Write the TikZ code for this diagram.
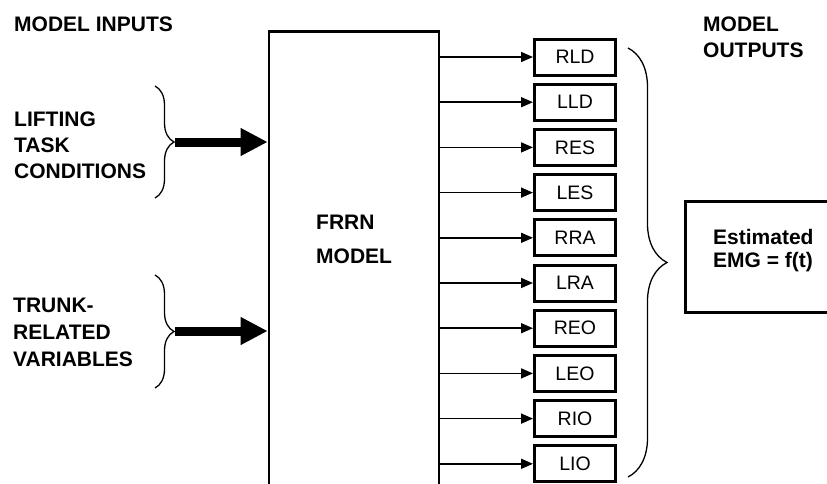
\documentclass[tikz,border=0pt]{standalone}
\usepackage{fontspec}
\setmainfont{Liberation Sans}
\usetikzlibrary{arrows.meta,positioning,decorations.pathreplacing}
\tikzset{
  headtext/.style={font=\fontsize{21}{26}\selectfont\bfseries, align=left,
    anchor=north west, inner sep=0pt},
  outbox/.style={draw, line width=3pt, minimum width=81pt,
    minimum height=36pt, inner sep=0pt, font=\fontsize{19.5}{22}\selectfont},
  bigbox/.style={draw, line width=2.6pt, inner sep=0pt},
  arrow/.style={-{Triangle[length=12pt,width=10pt]}, line width=1.6pt},
  fatarrow/.style={-{Triangle[length=27pt,width=26pt]}, line width=9pt},
  curly/.style={decorate, decoration={brace, amplitude=#1}, line width=1.3pt}
}

\begin{document}
\begin{tikzpicture}[x=1pt, y=-1pt, node distance=6.2pt]
  \clip (0,0) rectangle (827,483);

  % inputs
  \node[headtext] (inputs) at (14,17) {MODEL INPUTS};
  \node[headtext] (lifting) at (14,112) {LIFTING\\TASK\\CONDITIONS};
  \node[headtext, font=\fontsize{21}{27}\selectfont\bfseries] (trunk) at (13,298) {TRUNK-\\RELATED\\VARIABLES};

  % model
  \node[bigbox, anchor=north, minimum width=170pt, minimum height=500pt] (model) at (354,30) {};
  \node[headtext, font=\fontsize{21}{34}\selectfont\bfseries] (frrn) at (316,215) {FRRN\\MODEL};

  \coordinate (liftTop) at (155,86);
  \coordinate (liftBot) at (155,198);
  \coordinate (liftTip) at (175,142);
  \coordinate (trunkTop) at (155,275);
  \coordinate (trunkBot) at (155,388);
  \coordinate (trunkTip) at (175,331);
  \draw[curly=19pt] (liftTop) -- (liftBot);
  \draw[curly=19pt] (trunkTop) -- (trunkBot);
  \draw[fatarrow] (liftTip) -- (liftTip -| model.west);
  \draw[fatarrow] (trunkTip) -- (trunkTip -| model.west);

  % outputs
  \node[outbox] (rld) at (575,57) {RLD};
  \node[outbox, below=of rld] (lld) {LLD};
  \node[outbox, below=of lld] (res) {RES};
  \node[outbox, below=of res] (les) {LES};
  \node[outbox, below=of les] (rra) {RRA};
  \node[outbox, below=of rra] (lra) {LRA};
  \node[outbox, below=of lra] (reo) {REO};
  \node[outbox, below=of reo] (leo) {LEO};
  \node[outbox, below=of leo] (rio) {RIO};
  \node[outbox, below=of rio] (lio) {LIO};

  \draw[arrow] (model.east |- rld) -- (rld.west);
  \draw[arrow] (model.east |- lld) -- (lld.west);
  \draw[arrow] (model.east |- res) -- (res.west);
  \draw[arrow] (model.east |- les) -- (les.west);
  \draw[arrow] (model.east |- rra) -- (rra.west);
  \draw[arrow] (model.east |- lra) -- (lra.west);
  \draw[arrow] (model.east |- reo) -- (reo.west);
  \draw[arrow] (model.east |- leo) -- (leo.west);
  \draw[arrow] (model.east |- rio) -- (rio.west);
  \draw[arrow] (model.east |- lio) -- (lio.west);

  \node[headtext] (outputs) at (703,17) {MODEL\\OUTPUTS};
  \coordinate (outTop) at (628,48);
  \coordinate (outBot) at (628,477);
  \draw[curly=39pt] (outTop) -- (outBot);

  \node[bigbox, line width=3pt, minimum width=195pt, minimum height=111pt] (emg) at (782.5,256.5) {};
  \node[headtext, font=\fontsize{21}{23}\selectfont\bfseries] (emgtext) at (713,229) {Estimated\\EMG = f(t)};
\end{tikzpicture}
\end{document}
